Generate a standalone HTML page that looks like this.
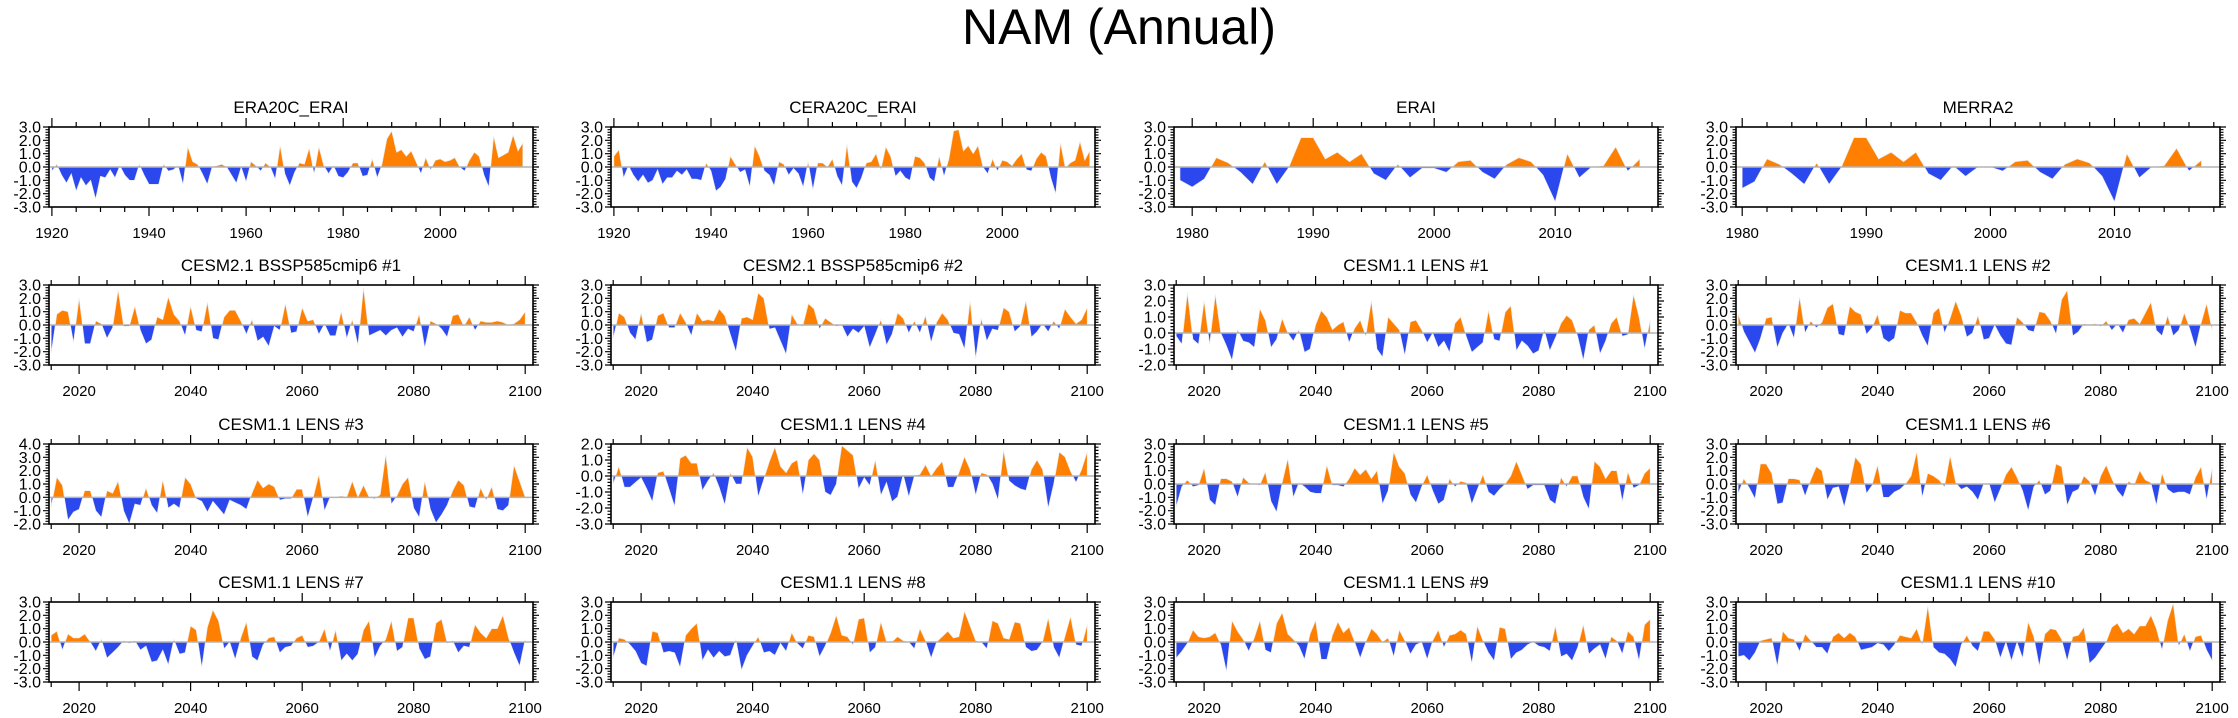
<!DOCTYPE html>
<html><head><meta charset="utf-8"><title>NAM (Annual)</title>
<style>
html,body{margin:0;padding:0;background:#fff;}
svg{display:block;font-family:"Liberation Sans",Arial,sans-serif;}
</style></head>
<body>
<svg id="fig" width="2238" height="718" viewBox="0 0 2238 718" xmlns="http://www.w3.org/2000/svg">
<text x="1119" y="44" font-size="50" text-anchor="middle" fill="#000">NAM (Annual)</text>
</svg>
<script>
// ---- data ----
const titles = ["ERA20C_ERAI","CERA20C_ERAI","ERAI","MERRA2",
 "CESM2.1 BSSP585cmip6 #1","CESM2.1 BSSP585cmip6 #2","CESM1.1 LENS #1","CESM1.1 LENS #2",
 "CESM1.1 LENS #3","CESM1.1 LENS #4","CESM1.1 LENS #5","CESM1.1 LENS #6",
 "CESM1.1 LENS #7","CESM1.1 LENS #8","CESM1.1 LENS #9","CESM1.1 LENS #10"];
const startYears = [1920,1920,1979,1980, 2015,2015,2015,2015, 2015,2015,2015,2015, 2015,2015,2015,2015];
const yMaxs = [3,3,3,3, 3,3,3,3, 4,2,3,3, 3,3,3,3];
const yMins = [-3,-3,-3,-3, -3,-3,-2,-3, -2,-3,-3,-3, -3,-3,-3,-3];
const histTicks = ["1920","1940","1960","1980","2000"];
const reanTicks = ["1980","1990","2000","2010"];
const futTicks = ["2020","2040","2060","2080","2100"];

const sEra20c = [-0.3,0.2,-0.6,-1.2,-0.5,-1.8,-0.8,-1.4,-1.0,-2.4,-0.7,-0.8,-0.2,-0.8,0.1,-0.6,-1.0,-1.0,0.2,-0.6,
 -1.3,-1.3,-1.3,0.2,-0.3,-0.2,0.1,-1.3,1.5,0.4,0.2,-0.5,-1.3,0.0,0.1,0.2,0.0,-0.6,-1.2,0.0,
 -1.1,0.4,0.1,-0.3,0.3,0.0,-0.9,1.6,-0.5,-1.4,-0.4,0.3,0.2,1.4,-0.5,1.5,0.1,-0.5,0.1,-0.7,
 -0.8,-0.4,0.3,0.3,-0.7,-0.6,0.6,-0.8,0.2,2.1,2.7,1.1,1.3,0.8,1.2,0.4,-0.5,0.7,-0.2,0.5,
 0.6,0.4,0.5,0.7,0.0,-0.3,0.5,1.1,0.8,-0.6,-1.5,2.3,0.7,0.9,1.1,2.4,1.2,1.8];
const sCera20c = [0.8,1.3,-0.8,0.1,-0.6,-1.1,-0.6,-1.2,-1.0,-0.2,-1.3,-0.8,-0.8,-0.3,-0.6,-0.2,-0.9,-0.9,-1.0,0.3,
 -0.3,-1.8,-1.5,-0.9,0.8,0.2,-0.4,-0.2,-1.5,1.6,0.8,-0.3,-0.6,-1.4,0.4,0.2,-0.6,-0.1,-0.5,-1.5,
 0.4,-1.7,0.3,0.3,0.0,0.6,-0.7,-1.4,1.7,-1.1,-1.6,-0.8,0.3,0.4,1.0,-0.2,1.5,0.8,-0.7,-0.3,
 -0.8,-1.0,0.8,0.7,0.3,-0.8,-1.1,0.8,-0.7,0.6,2.7,2.8,1.2,1.6,1.0,1.6,0.0,-0.5,0.6,-0.3,
 0.5,0.4,0.1,0.6,1.0,-0.2,-0.3,0.6,1.1,0.8,-0.8,-2.0,1.8,-0.1,0.3,0.5,1.9,0.5,1.2];
const sErai = [-1.0,-1.5,-0.9,0.7,0.3,-0.4,-1.3,0.4,-1.3,0.0,2.2,2.2,0.6,1.1,0.4,1.0,-0.5,-1.0,0.2,-0.8,
 -0.1,-0.1,-0.4,0.4,0.5,-0.4,-0.9,0.2,0.7,0.4,-0.6,-2.6,1.0,-0.8,0.0,0.1,1.5,-0.3,0.6];
const sMerra2 = [-1.6,-1.1,0.6,0.2,-0.5,-1.3,0.3,-1.3,0.0,2.2,2.2,0.6,1.1,0.4,1.1,-0.5,-1.0,0.1,-0.7,0.0,
 0.0,-0.3,0.4,0.5,-0.4,-0.9,0.2,0.6,0.3,-0.7,-2.6,1.0,-0.8,0.0,0.1,1.4,-0.3,0.5];
const sCesm2a = [-2.1,0.8,1.1,1.0,-1.3,2.0,-1.4,-1.4,0.3,0.1,-1.0,-0.2,2.6,-0.1,-0.1,1.4,-0.4,-1.4,-1.1,0.6,
 0.4,2.1,0.8,0.3,-0.8,1.4,-0.4,-0.5,1.7,-1.0,-1.1,0.6,1.1,1.1,0.3,-0.7,0.4,-1.2,-0.9,-1.6,
 -0.1,-0.4,1.6,-0.6,-0.5,1.3,0.3,0.4,-0.7,0.1,-0.8,-0.8,1.0,-1.0,0.4,-1.5,2.8,-0.8,-0.6,-0.4,
 -0.8,-0.4,-0.2,-0.9,-0.3,-0.5,0.8,-1.7,0.3,0.1,-0.3,-0.9,0.7,0.8,-0.1,0.6,-0.4,0.3,0.2,0.2,
 0.3,0.2,0.0,0.1,0.4,1.0];
const sCesm2b = [-1.0,0.9,0.6,-0.6,-1.1,0.9,-1.3,-1.1,0.7,0.9,-0.2,-0.2,0.9,0.2,-0.8,0.9,0.3,0.4,0.3,1.2,
 0.7,-0.7,-2.0,0.5,0.6,0.4,2.4,2.0,-0.3,-0.2,-1.2,-2.2,0.8,0.1,-0.1,1.6,1.2,-0.3,0.5,0.2,
 -0.1,0.0,-0.9,-0.3,-0.6,-0.1,-1.7,-0.7,0.4,-1.5,-0.7,0.9,0.5,-0.6,0.3,-0.6,0.7,-1.3,0.2,0.9,
 0.4,-0.6,-0.7,-1.8,1.8,-2.5,0.5,-1.2,-0.3,-0.4,1.3,1.0,-0.5,-0.1,1.8,-0.9,-0.5,0.1,-0.5,0.3,
 -0.3,1.2,0.6,0.1,0.4,1.3];
const sLens1 = [-0.2,-0.7,2.5,-0.4,-0.7,2.0,-0.7,2.4,0.0,-0.8,-1.7,0.2,-0.5,-0.6,-0.9,1.5,0.8,-0.9,-0.4,0.9,
 0.0,-0.5,0.2,-1.2,-1.0,0.5,1.4,1.0,0.2,0.5,0.7,-0.6,0.3,0.8,-0.2,2.0,-1.0,-1.5,1.0,0.6,
 0.2,-1.4,0.7,0.8,0.2,-0.6,0.0,-0.9,-0.5,-1.2,0.6,1.0,-0.2,-1.2,-0.9,-0.6,1.4,-0.4,-0.5,1.3,
 1.7,-1.1,-0.5,-0.8,-1.3,-1.1,0.2,-1.1,-0.3,0.6,1.1,0.8,-0.2,-1.7,0.2,0.5,-1.3,-0.5,0.6,1.0,
 -0.2,-0.1,2.4,1.0,-1.0,0.8];
const sLens2 = [0.8,-0.5,-1.3,-2.1,-1.0,0.5,0.6,-1.7,-0.6,0.1,-1.0,2.1,-0.6,0.3,-0.2,0.2,1.3,1.6,-0.7,-0.8,
 1.4,1.0,0.8,-0.7,-0.2,0.8,-1.0,-1.3,-1.0,1.1,0.9,0.9,0.2,-0.8,-1.6,0.9,1.3,-0.6,0.5,1.8,
 0.7,-0.9,-0.6,0.7,-1.1,-1.0,0.0,-0.8,-1.4,-1.5,0.6,0.2,-0.4,-0.5,1.0,0.9,0.3,-0.7,1.9,2.6,
 -0.8,-0.5,0.1,0.0,0.1,-0.1,0.3,-0.4,0.1,-0.6,0.4,0.5,0.1,0.9,1.7,-0.4,-0.8,0.7,-0.8,-0.4,
 0.9,-0.3,-1.7,0.1,1.6,-0.4];
const sLens3 = [-0.7,1.5,0.9,-1.7,-1.1,-0.9,0.5,0.5,-1.0,-1.5,0.5,0.3,1.2,-1.0,-2.0,-0.5,-0.6,0.7,-0.6,-1.2,
 1.3,-0.8,-0.5,-0.8,1.5,1.0,-0.1,-0.3,-1.1,-0.3,-0.8,-1.3,-0.2,-0.4,-0.6,-0.9,0.3,1.3,0.7,1.0,
 0.8,-0.2,-0.1,-0.1,0.6,0.6,-1.5,0.0,1.7,-1.0,0.0,0.0,0.1,0.0,1.2,0.0,0.9,0.0,-0.1,0.2,
 3.2,-0.5,0.1,1.0,1.5,-0.8,-1.5,1.2,-0.9,-1.9,-1.3,-0.6,0.5,1.3,0.9,-0.7,-0.8,0.7,-0.2,0.8,
 -0.9,-1.0,-0.6,2.4,1.2,0.0];
const sLens4 = [-0.5,0.6,-0.7,-0.7,-0.4,-0.1,-0.8,-1.6,0.2,0.3,-0.8,-1.9,1.1,1.3,0.8,0.8,-0.9,-0.3,0.2,-0.7,
 -1.8,0.2,-0.5,-0.5,1.8,1.2,-1.3,-0.2,0.9,1.8,0.6,0.2,0.8,1.0,-1.2,1.0,1.4,1.0,-1.0,-1.2,
 -0.5,1.9,1.6,1.3,-0.8,-0.1,-0.6,1.0,-1.2,-0.4,-1.6,-1.3,0.1,-1.3,0.0,0.1,0.7,0.0,0.5,0.9,
 -0.7,-0.7,0.2,1.2,0.4,-1.2,0.2,0.1,-0.5,-1.5,1.6,-0.3,-0.6,-0.8,-0.9,0.4,1.0,0.4,-2.0,-0.5,
 1.5,1.2,0.3,-0.4,0.4,1.5];
const sLens5 = [-1.7,-0.2,0.3,-0.2,-0.1,1.2,-1.2,-1.6,0.4,0.4,0.2,-1.0,0.5,0.1,0.0,-0.1,0.9,-1.3,-2.1,0.1,
 1.9,-1.0,0.1,-0.2,-0.6,-0.7,-0.7,1.4,-0.1,-0.1,-0.2,0.4,1.2,0.7,1.1,0.4,1.0,-1.5,-0.5,2.4,
 1.3,0.8,-0.8,-1.4,-0.2,0.7,-0.5,-1.5,-1.2,0.4,-0.2,0.2,0.1,-1.5,-0.4,0.7,-0.6,-0.9,-0.4,0.0,
 0.6,1.7,0.7,-0.4,-0.1,-0.1,-0.1,-1.2,-1.5,0.5,-0.2,0.6,0.6,-1.0,-1.9,1.7,1.3,0.4,1.0,1.0,
 -1.3,0.9,-0.3,-0.1,0.8,1.2];
const sLens6 = [-0.7,0.4,-0.3,-1.1,1.5,1.5,0.8,-1.5,-1.4,0.4,0.4,0.3,-0.9,0.3,1.3,1.0,-1.2,-0.3,-0.2,-1.7,
 0.0,2.0,1.5,-0.7,-0.1,1.4,-1.0,-1.0,-0.6,-0.4,0.0,0.6,2.4,-1.0,0.8,0.6,0.3,-0.2,2.1,0.1,
 -0.4,-0.2,-0.6,-1.2,0.0,0.0,-1.4,-0.4,0.7,1.3,0.5,-0.5,-2.0,-0.2,0.3,-0.8,-0.5,1.5,1.3,-1.6,
 -0.6,-0.4,0.6,0.2,-0.9,0.6,1.4,0.4,-0.5,-1.0,0.2,-0.1,1.0,0.3,0.1,-1.6,0.8,-0.4,-0.7,-0.6,
 -0.6,-0.8,0.5,1.3,-1.2,1.2];
const sLens7 = [0.5,0.8,-0.6,0.6,0.3,0.3,0.6,0.0,-0.7,0.2,-1.2,-0.8,-0.4,0.1,-0.1,0.1,-0.6,-0.3,-1.5,-1.4,
 -0.6,-1.7,0.2,-0.9,-0.8,1.2,0.9,-1.9,1.1,2.4,1.6,-0.5,0.0,-1.3,0.3,1.5,-1.1,-1.4,-0.2,0.3,
 0.4,-0.8,-0.4,-0.3,0.3,0.5,-0.4,-0.3,0.0,1.0,-0.7,0.9,-1.4,-0.9,-1.4,-0.9,0.9,1.6,-1.2,-0.3,
 0.2,1.6,-0.7,-0.4,1.8,1.8,-0.5,-1.3,-1.1,1.4,1.7,-0.1,0.1,-0.8,-0.3,-0.4,1.3,0.7,0.3,1.0,
 1.0,2.0,0.3,-0.8,-1.8,0.2];
const sLens8 = [-1.2,0.3,0.2,-0.2,-0.7,-1.6,-1.8,0.8,0.7,-0.8,-0.7,-0.8,-1.9,0.5,1.0,1.4,-1.4,-0.6,-1.2,-0.7,
 -1.1,-1.0,0.2,-2.1,-1.0,-0.3,0.4,-0.8,-0.7,-1.0,-0.1,-0.7,0.7,-0.1,-0.5,0.5,0.4,-1.1,-0.3,0.7,
 2.0,0.5,0.4,-0.2,1.7,1.8,-0.8,-0.4,1.5,0.0,0.0,0.4,0.1,0.0,-0.5,1.0,0.1,-1.2,0.0,0.4,
 0.8,0.3,0.4,2.3,1.2,0.1,0.0,-0.5,1.6,1.4,0.3,0.2,1.5,1.4,-0.4,-0.7,-0.6,0.0,1.8,-0.4,
 -1.2,0.4,1.9,-0.2,-0.3,1.3];
const sLens9 = [-1.2,-0.7,-0.1,0.9,0.4,0.3,0.4,0.7,-0.2,-2.2,1.6,0.8,0.2,-0.7,0.3,1.6,-0.6,-0.8,1.4,2.2,
 0.6,0.2,-0.3,-1.3,0.6,1.6,-1.3,-1.3,0.5,1.5,0.7,1.1,0.0,-1.2,0.0,1.0,0.6,0.0,0.3,-1.1,
 0.9,0.1,-0.9,-0.2,0.0,-1.3,0.1,0.9,-0.4,0.5,0.6,0.9,0.6,-1.6,1.2,0.1,-0.8,-1.4,1.1,1.0,
 -1.3,-0.8,-0.6,-0.2,0.0,-0.3,-0.4,-0.7,1.2,-1.1,-0.9,-1.4,-0.4,1.3,-0.9,-0.5,-0.2,-1.3,0.4,0.1,
 -0.9,0.8,0.4,-1.4,1.3,1.7];
const sLens10 = [-1.1,-1.0,-1.4,-0.8,0.1,0.2,0.3,-1.8,0.8,0.3,0.2,-0.7,0.6,0.1,-0.4,-0.4,-0.9,0.4,0.7,0.3,
 0.7,0.4,-0.6,-0.5,-0.4,-0.1,-0.2,-0.7,-0.2,0.5,0.4,0.3,1.0,-0.2,2.7,-0.4,-0.8,-0.9,-1.3,-1.9,
 -0.2,0.5,-0.3,-0.7,0.8,0.8,0.2,-1.2,0.0,-1.4,0.0,-1.2,1.5,0.4,-1.8,0.6,1.0,0.9,0.2,-1.4,
 0.4,0.5,1.1,-1.6,-1.2,-0.6,0.0,1.1,1.4,0.7,1.0,0.6,1.2,1.2,2.0,1.0,-0.6,1.6,2.9,-0.3,
 0.6,-0.7,0.4,0.5,-0.6,-1.4];
const seriesList = [sEra20c,sCera20c,sErai,sMerra2,sCesm2a,sCesm2b,sLens1,sLens2,sLens3,sLens4,sLens5,sLens6,sLens7,sLens8,sLens9,sLens10];

// ---- layout ----
const colX = [49, 611, 1174, 1736], rowY = [127, 285, 444, 602];
const PW = 484, PH = 80;
const ORANGE = "#ff8000", BLUE = "#2a48ee";
const svg = document.getElementById('fig');
const NS = "http://www.w3.org/2000/svg";
function mk(tag, attrs, parent){ const e=document.createElementNS(NS,tag); for(const k in attrs) e.setAttribute(k,attrs[k]); (parent||svg).appendChild(e); return e; }

function xCfg(i){
  if(i<2) return {min:1919.4, max:2019.1, major:[1920,1940,1960,1980,2000], minorStep:5, minorFrom:1920, minorTo:2015, labels:histTicks};
  if(i===2) return {min:1978.5, max:2018.5, major:[1980,1990,2000,2010], minorStep:2, minorFrom:1980, minorTo:2018, labels:reanTicks};
  if(i===3) return {min:1979.5, max:2018.5, major:[1980,1990,2000,2010], minorStep:2, minorFrom:1980, minorTo:2018, labels:reanTicks};
  return {min:2014.6, max:2101.4, major:[2020,2040,2060,2080,2100], minorStep:5, minorFrom:2015, minorTo:2100, labels:futTicks};
}

for(let i=0;i<16;i++){
  const c=i%4, r=Math.floor(i/4);
  const L=colX[c], T=rowY[r];
  const xc=xCfg(i), ymax=yMaxs[i], ymin=yMins[i];
  const xs = v => L + (v-xc.min)/(xc.max-xc.min)*PW;
  const ys = v => T + (ymax-v)/(ymax-ymin)*PH;
  const g = mk('g',{});
  
  
  const t = mk('text',{x:L+PW/2, y:T-14, 'font-size':17, 'text-anchor':'middle', fill:'#000'}, g);
  t.textContent = titles[i];
  
  

  const vals = seriesList[i], y0 = startYears[i];
  const pts = [];
  for(let k=0;k<vals.length;k++){
    const yr=y0+k, v=vals[k];
    if(k>0){ const pv=vals[k-1]; if((pv>0&&v<0)||(pv<0&&v>0)){ const f=pv/(pv-v); pts.push([yr-1+f,0]); } }
    pts.push([yr,v]);
  }
  const first=pts[0][0], last=pts[pts.length-1][0];
  function poly(sign){
    let d='M'+xs(first).toFixed(1)+','+ys(0).toFixed(1);
    for(const p of pts){ const v= sign>0?Math.max(p[1],0):Math.min(p[1],0); d+='L'+xs(p[0]).toFixed(1)+','+ys(v).toFixed(1); }
    d+='L'+xs(last).toFixed(1)+','+ys(0).toFixed(1)+'Z';
    return d;
  }
  const pp = mk('path',{d:poly(1), fill:ORANGE, stroke:'#e8e8e8', 'stroke-width':0.6}, g);
  
  
  const np = mk('path',{d:poly(-1), fill:BLUE, stroke:'#e8e8e8', 'stroke-width':0.6}, g);
  
  
  const zl = mk('line',{x1:L, x2:L+PW, y1:ys(0), y2:ys(0), stroke:'#b4b4b4', 'stroke-width':1.5}, g);
  
  

  const fr = mk('rect',{x:L, y:T, width:PW, height:PH, fill:'none', stroke:'#000', 'stroke-width':1.6}, g);
  
  

  let tk='';
  for(let v=ymin; v<=ymax+1e-6; v+=0.2){
    const yy=ys(v).toFixed(1), isMaj=Math.abs(v-Math.round(v))<1e-6, len=isMaj?6:3.5;
    tk+=`M${L},${yy}h${-len}M${L+PW},${yy}h${len}`;
  }
  for(let v=xc.minorFrom; v<=xc.minorTo; v+=xc.minorStep){
    const xx=xs(v).toFixed(1), isMaj=xc.major.indexOf(v)>=0, len=isMaj?9:5;
    tk+=`M${xx},${T}v${-len}M${xx},${T+PH}v${len}`;
  }
  const tp = mk('path',{d:tk, stroke:'#000', 'stroke-width':1.2, fill:'none'}, g);
  
  

  for(let v=Math.ceil(ymin); v<=Math.floor(ymax); v++){
    const lt = mk('text',{x:L-8, y:ys(v)+5.5, 'font-size':16, 'text-anchor':'end', fill:'#000'}, g);
    lt.textContent = v.toFixed(1);
    
    
  }
  xc.labels.forEach(s=>{
    const lt = mk('text',{x:xs(+s), y:T+PH+31, 'font-size':15, 'text-anchor':'middle', fill:'#000'}, g);
    lt.textContent = s;
    
    
  });
}
</script>
</body></html>
